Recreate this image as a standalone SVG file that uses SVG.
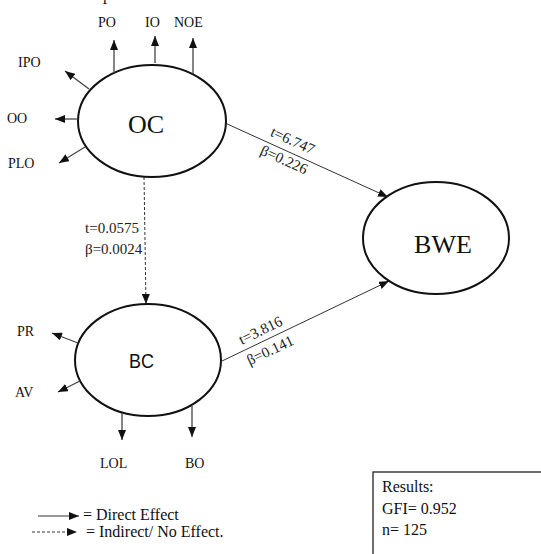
<svg xmlns="http://www.w3.org/2000/svg" width="541" height="554" viewBox="0 0 541 554">
<defs>
<style>
.node{fill:#fff;stroke:#111;stroke-width:2}
.big{font-family:"Liberation Serif","Times New Roman",serif;font-size:26px;fill:#111}
.lab{font-family:"Liberation Serif","Times New Roman",serif;font-size:14px;fill:#111}
.elab{font-family:"Liberation Serif","Times New Roman",serif;font-size:15px;fill:#222}
.leg{font-family:"Liberation Serif","Times New Roman",serif;font-size:16px;fill:#111}
.ind{stroke:#444;stroke-width:1.3;fill:none;marker-end:url(#ah)}
.con{stroke:#333;stroke-width:1;fill:none;marker-end:url(#ah)}
.dash{stroke-dasharray:3,2}
</style>
<marker id="ah" viewBox="0 0 10 8" refX="10" refY="4" markerWidth="10" markerHeight="8" markerUnits="userSpaceOnUse" orient="auto">
<path d="M0,0 L10,4 L0,8 Z" fill="#111"/>
</marker>
</defs>
<rect width="541" height="554" fill="#fff"/>
<text class="leg" x="103" y="-0.5" font-size="18">p</text>

<g id="connectors">
<line class="con" x1="225" y1="123" x2="388" y2="197"/>
<line class="con" x1="222" y1="361" x2="389" y2="281"/>
<line class="con dash" x1="144" y1="177" x2="146" y2="304"/>
<g transform="translate(287.8,151.5) rotate(24.4)">
<text class="elab" x="0" y="-7" text-anchor="middle">t=6.747</text>
<text class="elab" x="0" y="14" text-anchor="middle">β=0.226</text>
</g>
<g transform="translate(265.3,340.3) rotate(-25.6)">
<text class="elab" x="0" y="-6" text-anchor="middle">t=3.816</text>
<text class="elab" x="0" y="16" text-anchor="middle">β=0.141</text>
</g>
<text class="elab" x="85" y="233">t=0.0575</text>
<text class="elab" x="85" y="254">β=0.0024</text>
</g>

<g id="OC">
<ellipse class="node" cx="152" cy="121" rx="74" ry="56"/>
<text class="big" x="146" y="133" text-anchor="middle">OC</text>
<line class="ind" x1="114" y1="73" x2="114" y2="40"/>
<line class="ind" x1="155" y1="63" x2="155" y2="36"/>
<line class="ind" x1="193" y1="74" x2="193" y2="38"/>
<line class="ind" x1="89" y1="89" x2="65" y2="71"/>
<line class="ind" x1="78" y1="119" x2="55" y2="119"/>
<line class="ind" x1="85" y1="147" x2="59" y2="163"/>
<text class="lab" x="98" y="27">PO</text>
<text class="lab" x="145" y="27">IO</text>
<text class="lab" x="174" y="27">NOE</text>
<text class="lab" x="18" y="67">IPO</text>
<text class="lab" x="7" y="123">OO</text>
<text class="lab" x="8" y="168">PLO</text>
</g>

<g id="BWE">
<ellipse class="node" cx="436" cy="238" rx="73" ry="56"/>
<text class="big" x="443" y="253" text-anchor="middle" font-size="25">BWE</text>
</g>

<g id="BC">
<ellipse class="node" cx="148" cy="360" rx="73" ry="56"/>
<text x="129" y="368" font-family="'Liberation Sans',Arial,sans-serif" font-size="21" fill="#111" textLength="25" lengthAdjust="spacingAndGlyphs">BC</text>
<line class="ind" x1="78" y1="343" x2="52" y2="333"/>
<line class="ind" x1="80" y1="381" x2="58" y2="392"/>
<line class="ind" x1="122" y1="413" x2="122" y2="440"/>
<line class="ind" x1="192" y1="406" x2="192" y2="437"/>
<text class="lab" x="17" y="336">PR</text>
<text class="lab" x="15" y="397">AV</text>
<text class="lab" x="100" y="468">LOL</text>
<text class="lab" x="185" y="468">BO</text>
</g>

<g id="legend">
<line class="con" x1="38" y1="516" x2="79" y2="516" stroke-width="1.2"/>
<text class="leg" x="83" y="520">= Direct Effect</text>
<line class="con dash" x1="32" y1="532" x2="77" y2="532"/>
<text class="leg" x="86" y="537">= Indirect/ No Effect.</text>
</g>

<g id="results">
<rect x="373" y="472" width="200" height="120" fill="#fff" stroke="#222" stroke-width="1.3"/>
<text class="leg" x="382" y="492">Results:</text>
<text class="leg" x="382" y="514">GFI= 0.952</text>
<text class="leg" x="382" y="535">n= 125</text>
</g>
</svg>
